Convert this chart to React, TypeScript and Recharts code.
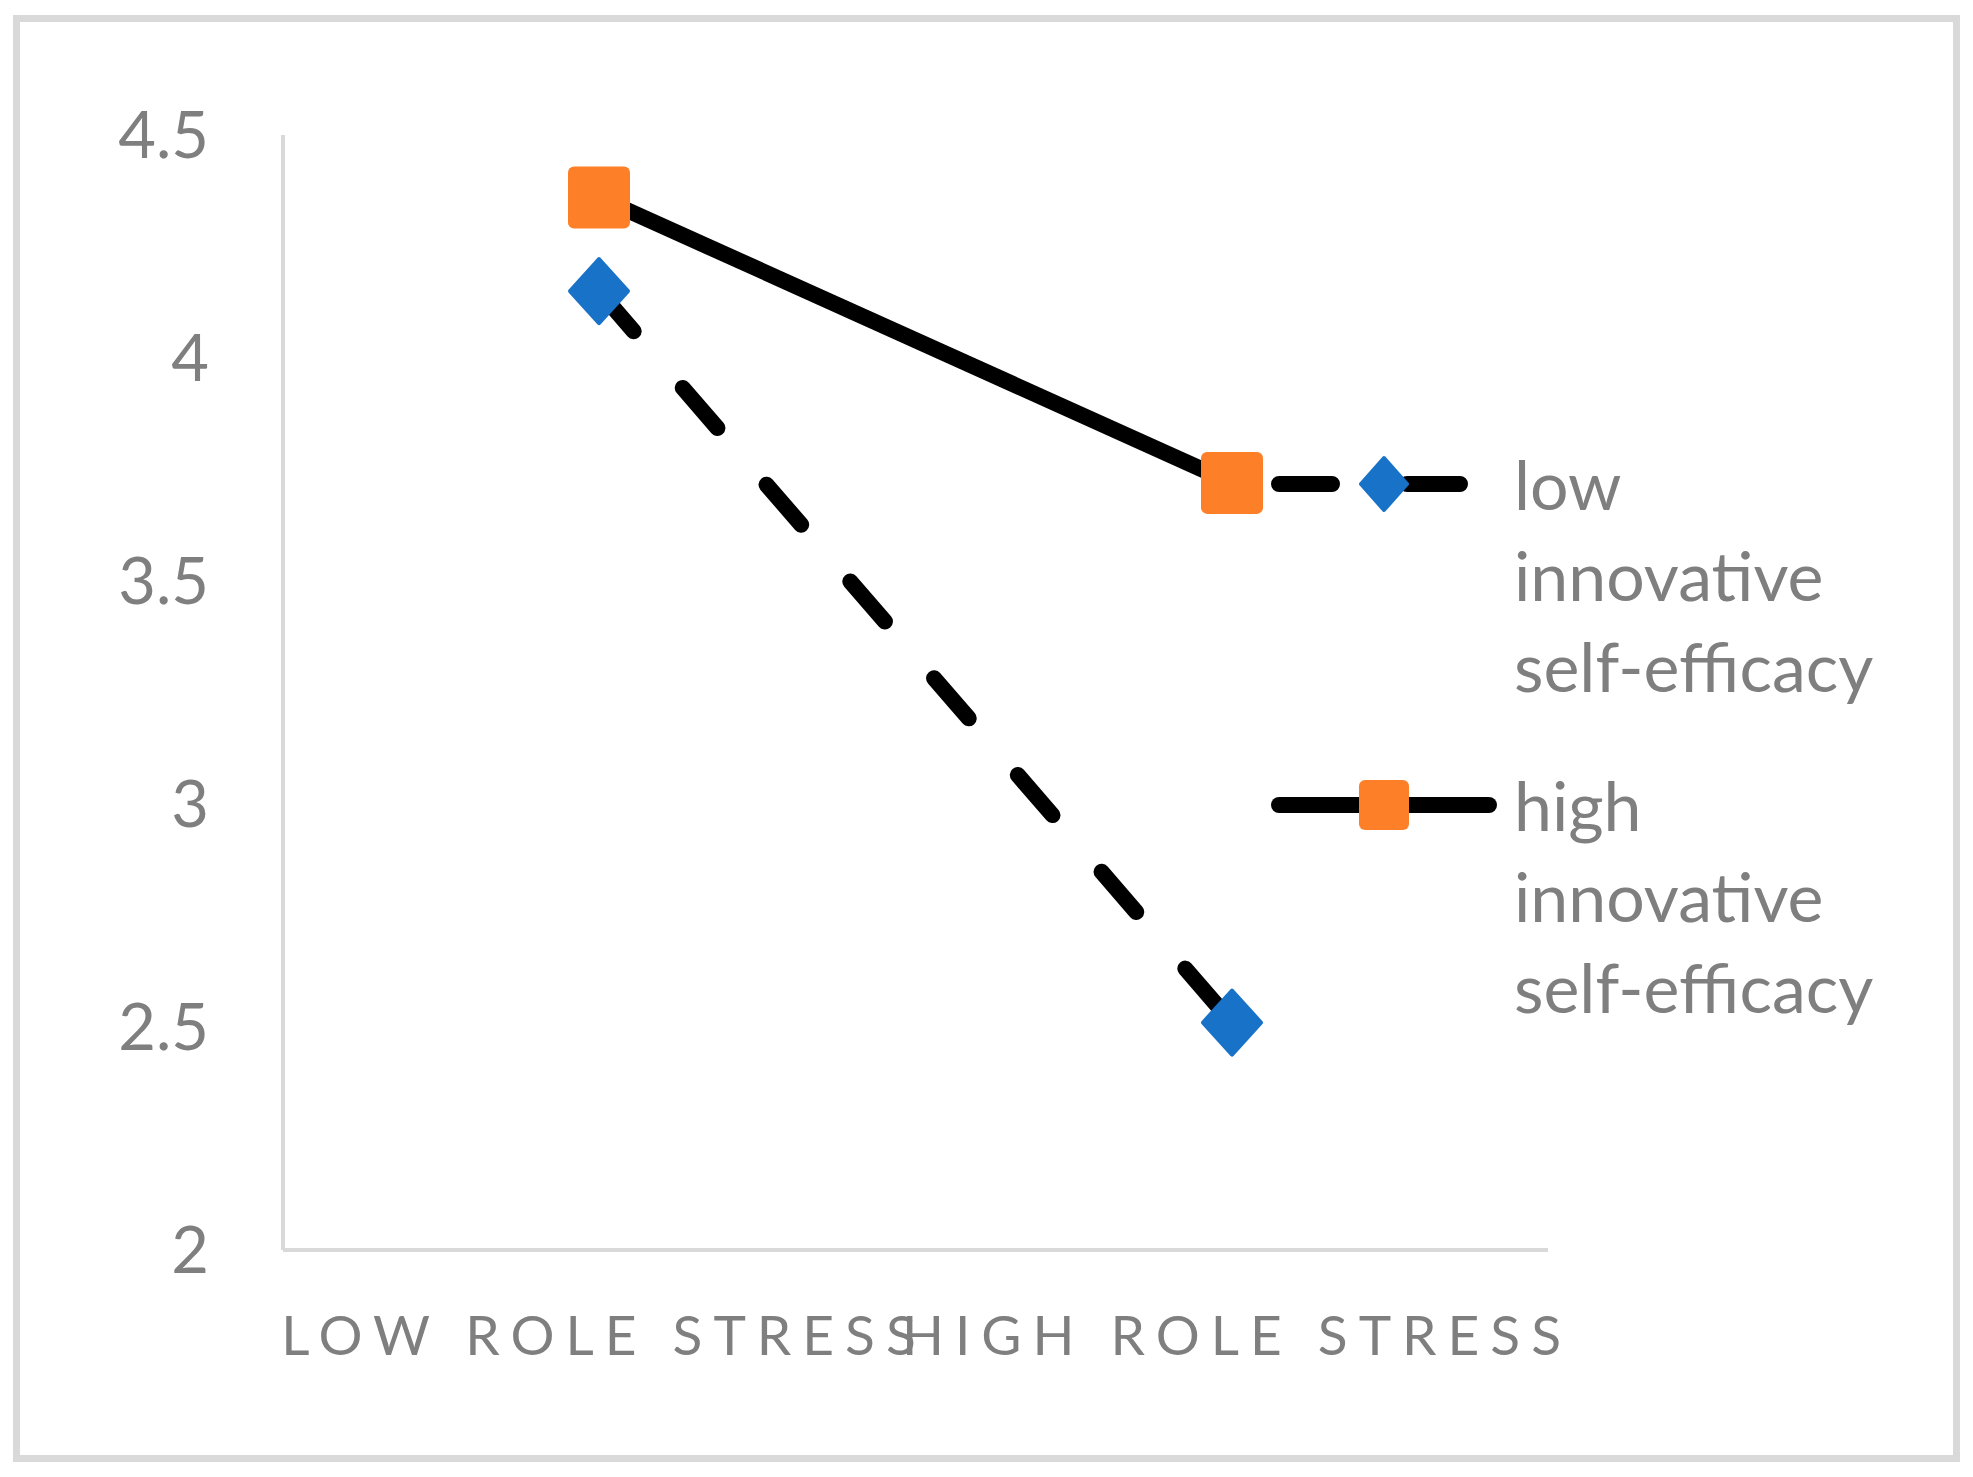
import * as React from "react";
import { Legend, Line, LineChart, XAxis, YAxis } from "recharts";

const categories = ["LOW ROLE STRESS", "HIGH ROLE STRESS"];
const lowEfficacy = [4.15, 2.51];
const highEfficacy = [4.36, 3.72];
const yTicks = [2, 2.5, 3, 3.5, 4, 4.5];
const seriesKeys = ["low", "high"];
const seriesNames = ["low innovative self-efficacy", "high innovative self-efficacy"];
// how the legend labels wrap in the original
const legendLines: Record<string, string[]> = {
  low: ["low", "innovative", "self-efficacy"],
  high: ["high", "innovative", "self-efficacy"],
};

const data = categories.map((cat, i) => ({
  cat,
  low: lowEfficacy[i],
  high: highEfficacy[i],
}));

const BLUE = "#1872C8";
const ORANGE = "#FD8028";
const GREY_TEXT = "#7f7f7f";
const AXIS = "#d9d9d9";
const FONT = "Lato, 'Open Sans', sans-serif";
const LINE_W = 16;
const DASH = "53 75";

function diamond(cx: number, cy: number, w: number, h: number, key?: string) {
  return (
    <path
      key={key}
      d={`M${cx},${cy - h} L${cx + w},${cy} L${cx},${cy + h} L${cx - w},${cy} Z`}
      fill={BLUE}
      stroke={BLUE}
      strokeWidth={4}
      strokeLinejoin="round"
    />
  );
}

function square(cx: number, cy: number, s: number, key?: string) {
  return (
    <rect key={key} x={cx - s / 2} y={cy - s / 2} width={s} height={s} rx={6} fill={ORANGE} />
  );
}

const XTick = (props: any) => {
  const { x, y, payload } = props;
  return (
    <text
      x={x + 5}
      y={y + 105}
      textAnchor="middle"
      fill={GREY_TEXT}
      fontSize={55}
      fontFamily={FONT}
      style={{ letterSpacing: 11 }}
    >
      {payload.value}
    </text>
  );
};

const LegendBox = (props: any) => {
  const items = [...(props.payload || [])].sort(
    (a: any, b: any) => seriesKeys.indexOf(a.dataKey) - seriesKeys.indexOf(b.dataKey)
  );
  return (
    <svg width={540} height={640} style={{ overflow: "visible" }}>
      {items.map((it: any, i: number) => {
        const key = it.dataKey as string;
        const lineY = i === 0 ? 44 : 365;
        const textY = lineY + 26;
        const isLow = key === "low";
        return (
          <g key={key}>
            <line
              x1={19}
              x2={isLow ? 206 : 229}
              y1={lineY}
              y2={lineY}
              stroke="#000"
              strokeWidth={LINE_W}
              strokeLinecap="round"
              strokeDasharray={isLow ? DASH : undefined}
            />
            {isLow ? diamond(124, lineY, 23, 26) : square(124, lineY, 50)}
            <text fill={GREY_TEXT} fontSize={68} fontFamily={FONT}>
              {(legendLines[key] || [it.value]).map((t, j) => (
                <tspan key={j} x={254} y={textY + j * 91}>
                  {t}
                </tspan>
              ))}
            </text>
          </g>
        );
      })}
    </svg>
  );
};

export default function App() {
  return (
    <div
      style={{
        position: "absolute",
        left: 0,
        top: 0,
        width: 1973,
        height: 1477,
        background: "#fff",
        overflow: "hidden",
      }}
    >
      <div
        style={{
          position: "absolute",
          left: 13,
          top: 15,
          width: 1947,
          height: 1447,
          border: `7px solid ${AXIS}`,
          boxSizing: "border-box",
        }}
      />
      <div style={{ position: "absolute", left: 0, top: 0 }}>
        <LineChart
          width={1973}
          height={1477}
          data={data}
          margin={{ top: 135, right: 425, bottom: 127, left: 183 }}
        >
          <XAxis
            dataKey="cat"
            height={100}
            padding={{ left: 316, right: 316 }}
            axisLine={{ stroke: AXIS, strokeWidth: 4 }}
            tickLine={false}
            tickSize={0}
            tickMargin={0}
            interval={0}
            tick={<XTick />}
          />
          <YAxis
            width={100}
            domain={[2, 4.5]}
            ticks={yTicks}
            interval={0}
            axisLine={{ stroke: AXIS, strokeWidth: 4 }}
            tickLine={false}
            tickSize={0}
            tickMargin={74}
            tick={{ fill: GREY_TEXT, fontSize: 65, fontFamily: FONT }}
          />
          <Legend
            layout="horizontal"
            verticalAlign="middle"
            align="center"
            content={<LegendBox />}
            wrapperStyle={{ left: 1260, top: 440, width: 540, height: 640 }}
          />
          <Line
            dataKey="low"
            name={seriesNames[0]}
            stroke="#000"
            strokeWidth={LINE_W}
            strokeLinecap="round"
            strokeDasharray={DASH}
            isAnimationActive={false}
            dot={(p: any) => diamond(p.cx, p.cy, 29, 32, `dl-${p.index}`)}
            activeDot={false}
          />
          <Line
            dataKey="high"
            name={seriesNames[1]}
            stroke="#000"
            strokeWidth={LINE_W}
            isAnimationActive={false}
            dot={(p: any) => square(p.cx, p.cy, 62, `dh-${p.index}`)}
            activeDot={false}
          />
        </LineChart>
      </div>
    </div>
  );
}
